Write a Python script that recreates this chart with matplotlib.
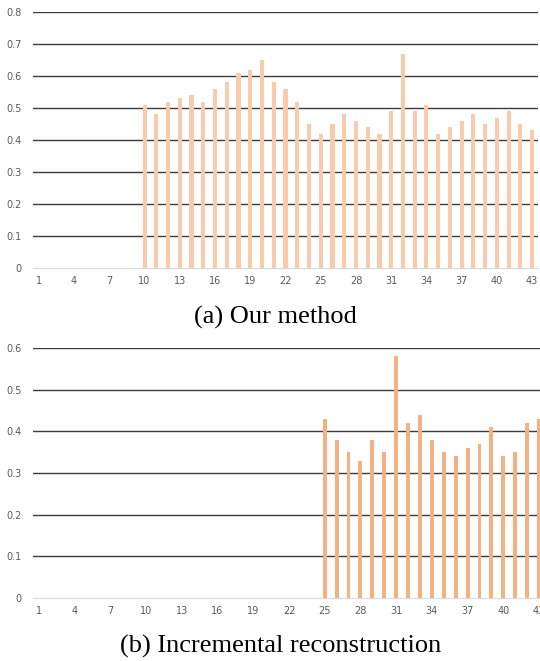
import numpy as np
import matplotlib.pyplot as plt

# data (index 1..43)
cats = list(range(1, 44))
ours = [0] * 9 + [0.51, 0.48, 0.52, 0.53, 0.54, 0.52, 0.56, 0.58, 0.61, 0.62,
                  0.65, 0.58, 0.56, 0.52, 0.45, 0.42, 0.45, 0.48, 0.46, 0.44,
                  0.42, 0.49, 0.67, 0.49, 0.51, 0.42, 0.44, 0.46, 0.48, 0.45,
                  0.47, 0.49, 0.45, 0.43]
incremental = [0] * 24 + [0.43, 0.38, 0.35, 0.33, 0.38, 0.35, 0.58, 0.42, 0.44,
                          0.38, 0.35, 0.34, 0.36, 0.37, 0.41, 0.34, 0.35, 0.42,
                          0.43]
xticks = list(range(1, 44, 3))
caption_a = '(a) Our method'
caption_b = '(b) Incremental reconstruction'

W, H = 540, 661
fig = plt.figure(figsize=(W / 100, H / 100), dpi=100)


def panel(rect, vals, color, ymax, width):
    ax = fig.add_axes(rect)
    ax.bar(cats, vals, width=width, color=color, zorder=3)
    ax.set_xlim(0.5, 43.5)
    ax.set_ylim(0, ymax)
    yt = np.round(np.arange(0, ymax + 0.001, 0.1), 1)
    ax.set_yticks(yt)
    ax.set_yticklabels(['0'] + ['%.1f' % v for v in yt[1:]])
    ax.set_xticks(xticks)
    ax.grid(axis='y', color='#3c3c3c', linewidth=1.0, zorder=0)
    ax.get_ygridlines()[0].set_visible(False)
    for s in ['top', 'right', 'left']:
        ax.spines[s].set_visible(False)
    ax.spines['bottom'].set_color('#d9d9d9')
    ax.tick_params(length=0, labelsize=7, labelcolor='#595959')
    ax.tick_params(axis='y', pad=8)
    ax.tick_params(axis='x', pad=6)
    return ax


# top panel: 0.8 at y=12px, 0 at y=268px, x from 33 to 538
panel([33 / W, 1 - 268 / H, 505 / W, 256 / H], ours, '#f8cbad', 0.8, 0.35)
# bottom panel: 0.6 at y=348px, 0 at y=598px, runs past the right edge
panel([33 / W, 1 - 598 / H, 512 / W, 250 / H], incremental, '#f4b183', 0.6, 0.33)

fig.text(275 / W, 1 - 317 / H, caption_a, ha='center', va='center',
         family='Liberation Serif', fontsize=19)
fig.text(281 / W, 1 - 646 / H, caption_b, ha='center', va='center',
         family='Liberation Serif', fontsize=19)

fig.savefig('out.png', dpi=100, facecolor='white')
